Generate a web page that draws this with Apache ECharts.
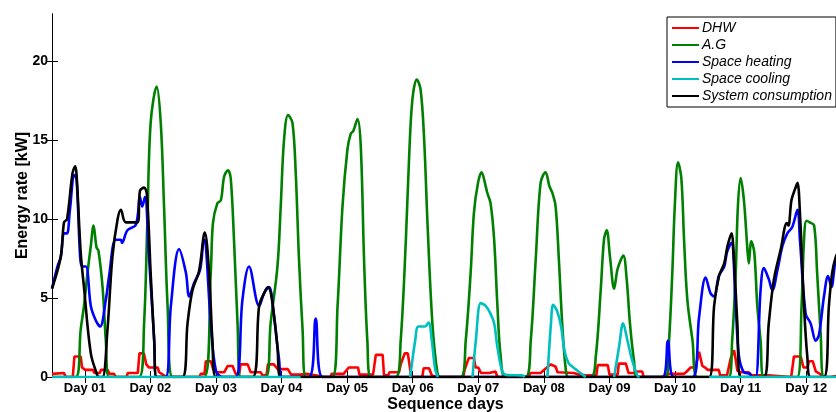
<!DOCTYPE html>
<html>
<head>
<meta charset="utf-8">
<script src="https://cdn.jsdelivr.net/npm/echarts@6/dist/echarts.min.js"></script>
<style>html,body{margin:0;padding:0;background:#fff;}#c{width:836px;height:412px;}</style>
</head>
<body>
<div id="c"></div>
<script>
// x = hour of the 12-day sequence, y = kW
const dayLabels = ['Day 01','Day 02','Day 03','Day 04','Day 05','Day 06','Day 07','Day 08','Day 09','Day 10','Day 11','Day 12'];
const yTicks = [0, 5, 10, 15, 20];

const dhw = [
  [0,0.2],[0.7,0.25],[4.4,0.25],[5,0],[7.6,0],[8.2,1.3],[10.5,1.3],[11,0.6],[12.2,0.45],[15,0.45],[15.5,0.25],[17.5,0.25],[17.9,0.45],[20.4,0.45],[21,0.2],[22.6,0.2],[23.4,0],[27.3,0],[27.7,0.25],[31.4,0.25],[32,1.5],[33.6,1.5],[34.5,0.8],[35.5,0.6],[38.7,0.6],[39.2,0.3],[41,0.1],[42,0],
  [54,0],[54.4,0.2],[55.8,0.2],[56.3,1.0],[58.1,1.0],[59,0.5],[60,0.3],[63,0.3],[64.3,0.7],[66.1,0.7],[67.2,0.2],[68.5,0.2],[69,0.8],[71.6,0.8],[72.7,0.3],[76.4,0.3],[77,0.1],[78.5,0.1],[79,0.8],[81.2,0.8],[82.6,0.5],[86.3,0.5],[87.5,0.15],[91,0.15],[93,0.2],[97,0.1],[99,0],
  [102,0],[102.3,0.2],[106.7,0.2],[108.6,0.6],[112,0.6],[112.5,0.15],[117.5,0.15],[118.5,1.4],[121,1.4],[121.5,0.1],[123,0.1],[123.5,0.3],[127,0.3],[127.6,0.8],[129.1,1.5],[130.2,1.5],[131,0.6],[131.5,0],[135.5,0],[136,0.55],[138,0.55],[139,0.1],[141,0],
  [150.5,0],[151,0.45],[152.5,1.2],[154.4,1.2],[155,0.6],[156,0.6],[157,0.25],[160,0.25],[160.5,0.35],[162.3,0.35],[163,0],
  [174.5,0],[175,0.25],[178.8,0.25],[181.4,0.65],[182.5,0.8],[184.3,0.65],[185,0.3],[191,0.25],[193,0.15],[196,0.1],[199.2,0.1],[199.7,0.75],[203.4,0.75],[204,0.15],[207,0.15],[207.4,0.85],[210,0.85],[211,0.25],[213,0.25],[214,0.35],[216,0.35],[216.5,0],
  [223.5,0],[224,0.1],[225.5,0.2],[231.2,0.2],[232,0.3],[233.7,0.6],[235.5,0.6],[236.8,1.6],[237.5,1.6],[238,0.7],[239,0.6],[240,0.45],[244,0.45],[244.5,0.1],[247,0.1],[248.4,1.2],[249.6,1.7],[250.3,1.0],[250.8,0.4],[252,0.3],[255,0.3],[256,0.1],[262,0.1],[262.5,0],
  [270.5,0],[271.5,1.3],[274,1.3],[275,0.6],[276.5,0.6],[277,1.0],[278.4,1.0],[279.5,0.35],[281,0.2],[282.4,0],[285,0],[285.5,0.1],[288,0.1]
];

const ag = [
  [0,0],[8.7,0],[10.5,3.0],[11.7,4.5],[13,6.6],[14.2,8.3],[15.2,9.6],[16.3,8.2],[17,8.0],[18.5,5.7],[19.7,2.3],[20.9,0],
  [31.9,0],[33.7,3.4],[34.9,9.8],[36.1,16.1],[38.3,18.4],[39.8,16.1],[41,10.8],[42.3,4.5],[44.1,0],
  [55.7,0],[58.1,6.6],[58.9,9.75],[60.5,11.0],[61.8,11.2],[63,12.7],[64.4,13.1],[65.4,12.6],[66.6,8.7],[67.9,3.4],[69.1,0],
  [78.2,0],[80,3.4],[82.5,7.0],[83.7,10.8],[84.9,15.0],[86.4,16.6],[88,16.1],[89.2,12.9],[90.4,7.4],[91.7,3.0],[92.9,0],
  [102.6,0],[104.5,4.5],[106.3,10.8],[108.1,14.4],[109.3,15.4],[110.3,15.6],[111.8,16.35],[113,14.6],[114.2,7.4],[115.4,2.3],[116.7,0],
  [125.8,0],[127.6,2.3],[129.5,8.7],[130.7,14.0],[131.9,17.6],[133.5,18.85],[134.9,18.2],[136.2,15.0],[137.4,9.8],[139.2,3.4],[141,0.3],[142,0],
  [149.6,0],[151.4,2.3],[153.2,6.6],[154.4,10.4],[155.9,12.3],[157.2,12.97],[158.7,12.1],[159.3,11.66],[160.5,11.0],[161.8,8.7],[163,4.5],[164.2,1.3],[166,0],
  [173.3,0],[175.2,2.3],[177,7.4],[178.8,12.3],[180.6,12.97],[182,12.1],[183.1,11.66],[184.3,10.8],[185.5,7.4],[186.7,3.4],[188,0.5],[189,0],
  [197.2,0],[199,1.3],[200.8,5.5],[202,8.7],[203,9.3],[204.2,7.6],[205.7,5.6],[206.9,6.8],[208.1,7.4],[209.1,7.7],[210.3,6.2],[211.5,3.4],[213,1.0],[214.2,0],
  [224.6,0],[225.8,2.3],[227,6.6],[227.9,10.8],[229.1,13.6],[230.3,12.6],[231.3,8.7],[232.5,4.9],[234.4,2.3],[236.2,0],
  [247.6,0],[248.9,2.3],[250.2,6.6],[251,10.8],[252,12.6],[253.2,11.2],[254.4,8.3],[255,7.2],[255.9,8.6],[257,7.9],[258.1,4.5],[259.3,2.3],[260.5,0],
  [272.7,0],[274.3,4.5],[275.2,8.7],[276.1,9.9],[277.3,9.8],[278.9,9.6],[280,6.6],[281.3,2.7],[282.5,0],[288,0]
];

const spaceHeating = [
  [0,5.6],[2,7.0],[3.2,7.6],[4.4,9.1],[5.5,9.1],[6.5,10.5],[8.2,12.8],[9,12.5],[10.3,7.6],[11,7.0],[12.4,7.0],[14.2,4.5],[16,3.6],[17.6,3.2],[19.7,4.9],[20.9,6.4],[23.3,8.7],[25.2,8.7],[25.6,8.5],[27.6,9.3],[30.7,9.65],[32.2,11.4],[33,10.8],[34,11.4],[35.5,7.6],[37.4,2.3],[38.2,0],
  [41.6,0],[43.5,4.5],[46.5,8.1],[49,6.6],[50.2,5.1],[52,5.95],[54.2,6.8],[55.7,8.7],[56.2,8.6],[58.1,3.4],[60,0.4],[62.4,0],
  [67.2,0],[69.7,4.9],[72.1,7.0],[75.8,4.5],[77.6,5.3],[79.4,5.7],[81.3,3.8],[83.1,1.1],[84.3,0],
  [94,0],[96.5,3.7],[99,0],
  [223.4,0],[225.4,2.3],[227.6,0],
  [234.4,0],[236.8,3.8],[239.2,6.3],[241,5.3],[242.3,5.1],[244,6.4],[246,7.0],[247,7.9],[248.6,8.5],[250.2,4.5],[251.4,1.3],[253.2,0.3],[255.4,0.2],[256,0],
  [257.5,0],[259.3,5.5],[260.5,6.9],[262.3,6.2],[263.6,5.5],[265.5,6.8],[267.3,8.3],[269.1,9.1],[270.9,9.5],[272.8,10.6],[273.7,8.7],[275.8,4.0],[277.6,3.4],[279.5,2.3],[280.7,2.7],[282.5,5.1],[284,6.4],[285.2,5.7],[286.8,7.4],[288,7.6]
];

const spaceCooling = [
  [0,0],[91,0],[91,'-'],
  [131.1,0],[132.9,2.3],[134.1,3.2],[136.5,3.2],[137.8,3.45],[139,2.3],[140.2,0.5],[141.2,0],[141.3,'-'],
  [153.9,0],[155.1,2.3],[156.9,4.68],[158.7,4.5],[160.5,4.0],[161.8,3.4],[163,1.9],[164.9,0.3],[166.7,0.12],[172,0.1],[173,0],[173.1,'-'],
  [181.3,0],[182.6,3.4],[183.4,4.57],[184.9,4.15],[186.3,3.2],[187.5,1.7],[189,0.9],[190.8,0.6],[192.3,0.4],[195.3,0],[195.4,'-'],
  [205.7,0],[207.5,1.9],[209,3.4],[210.6,2.3],[212.4,1.0],[214.2,0.1],[215,0],[215.1,'-'],
  [240.5,0],[288,0]
];

const systemConsumption = [
  [0,5.6],[3.2,7.6],[4.4,9.8],[5.5,10.0],[7.5,12.9],[8.5,13.35],[9,12.8],[10.5,7.9],[11.7,5.7],[14.2,1.5],[16.6,0.1],[17,0],[18.5,0],[20.3,3.0],[22.1,7.6],[24,10.0],[25.2,10.6],[27,9.8],[31.3,9.8],[32.2,11.8],[33.7,12.0],[34.7,11.6],[36.1,6.6],[37.4,2.3],[38.3,0],
  [47.7,0],[49.6,3.4],[51.4,5.5],[53.8,6.7],[55.9,9.15],[57.5,6.6],[58.7,2.3],[60,0],
  [73.4,0],[75.8,4.5],[77.6,5.3],[79,5.7],[80.4,5.0],[82.5,1.9],[83.7,0],
  [240.5,0],[242.3,4.5],[244.1,6.4],[246,7.2],[247.2,8.3],[248.7,9.1],[249.3,8.3],[250.8,3.4],[252,0],
  [260.5,0],[262.3,3.4],[264.2,6.2],[266.7,8.1],[268.9,9.75],[269.5,9.6],[270.6,11.2],[271.9,11.9],[272.8,12.3],[273.7,10.4],[275.2,4.5],[276.4,1.3],[277.6,0],
  [282.5,0],[284.3,4.5],[285.5,6.6],[286.8,7.6],[288,8.0]
];

const hoursPerDay = 24;
const totalHours = dayLabels.length * hoursPerDay;
const dayTickPos = dayLabels.map((_, i) => i * hoursPerDay + hoursPerDay / 2);

const FONT = 'Liberation Sans, Arial, sans-serif';
const chart = echarts.init(document.getElementById('c'), null, {renderer: 'canvas'});

function line(name, data, color, smooth) {
  return {
    name, type: 'line', data, smooth: smooth ? 0.35 : false,
    symbol: 'none', showSymbol: false, connectNulls: false,
    lineStyle: {color, width: 2.6}, itemStyle: {color},
    xAxisIndex: 0, yAxisIndex: 0
  };
}

chart.setOption({
  animation: false,
  backgroundColor: '#fff',
  grid: {left: 52, top: 14, width: 787, height: 363, containLabel: false, outerBoundsMode: 'none'},
  legend: {
    data: ['DHW', 'A.G', 'Space heating', 'Space cooling', 'System consumption'],
    orient: 'vertical', left: 667, top: 17,
    itemWidth: 27, itemHeight: 14, itemGap: 3,
    padding: [4, 4, 4, 4],
    borderColor: '#000', borderWidth: 1, backgroundColor: '#fff',
    itemStyle: {opacity: 0, color: 'transparent', borderColor: 'transparent', borderWidth: 0},
    textStyle: {fontFamily: FONT, fontStyle: 'italic', fontSize: 14, color: '#000', padding: [0,0,0,-2]},
    z: 10
  },
  xAxis: [{
    type: 'value', min: 0, max: totalHours, position: 'bottom',
    axisLine: {show: true, lineStyle: {color: '#000', width: 1}},
    axisTick: {show: true, inside: true, length: 6, customValues: dayTickPos, lineStyle: {color: '#000'}},
    axisLabel: {
      customValues: dayTickPos, margin: 5,
      fontFamily: FONT, fontWeight: 'bold', fontSize: 13, color: '#000',
      formatter: v => dayLabels[Math.round((v - hoursPerDay / 2) / hoursPerDay)] || ''
    },
    splitLine: {show: false},
    name: 'Sequence days', nameLocation: 'middle', nameGap: 20, nameMoveOverlap: false,
    nameTextStyle: {fontFamily: FONT, fontWeight: 'bold', fontSize: 16, color: '#000'}
  }, {
    type: 'value', min: 0, max: totalHours, position: 'top',
    axisLine: {show: true, lineStyle: {color: '#000', width: 1}},
    axisTick: {show: true, inside: true, length: 6, customValues: dayTickPos, lineStyle: {color: '#000'}},
    axisLabel: {show: false}, splitLine: {show: false}
  }],
  yAxis: [{
    type: 'value', min: 0, max: 23, position: 'left',
    axisLine: {show: true, lineStyle: {color: '#000', width: 1}},
    axisTick: {show: true, inside: true, length: 6, customValues: yTicks, lineStyle: {color: '#000'}},
    axisLabel: {customValues: yTicks, margin: 4, fontFamily: FONT, fontWeight: 'bold', fontSize: 14, color: '#000'},
    splitLine: {show: false},
    name: 'Energy rate [kW]', nameLocation: 'middle', nameGap: 21, nameRotate: 90, nameMoveOverlap: false,
    nameTextStyle: {fontFamily: FONT, fontWeight: 'bold', fontSize: 16, color: '#000'}
  }, {
    type: 'value', min: 0, max: 23, position: 'right',
    axisLine: {show: true, lineStyle: {color: '#000', width: 1}},
    axisTick: {show: true, inside: true, length: 6, customValues: yTicks, lineStyle: {color: '#000'}},
    axisLabel: {show: false}, splitLine: {show: false}
  }],
  series: [
    line('DHW', dhw, '#ff0000', false),
    line('A.G', ag, '#008000', true),
    line('Space heating', spaceHeating, '#0000ff', true),
    line('System consumption', systemConsumption, '#000000', true),
    line('Space cooling', spaceCooling, '#00bfbf', true)
  ]
});
</script>
</body>
</html>
